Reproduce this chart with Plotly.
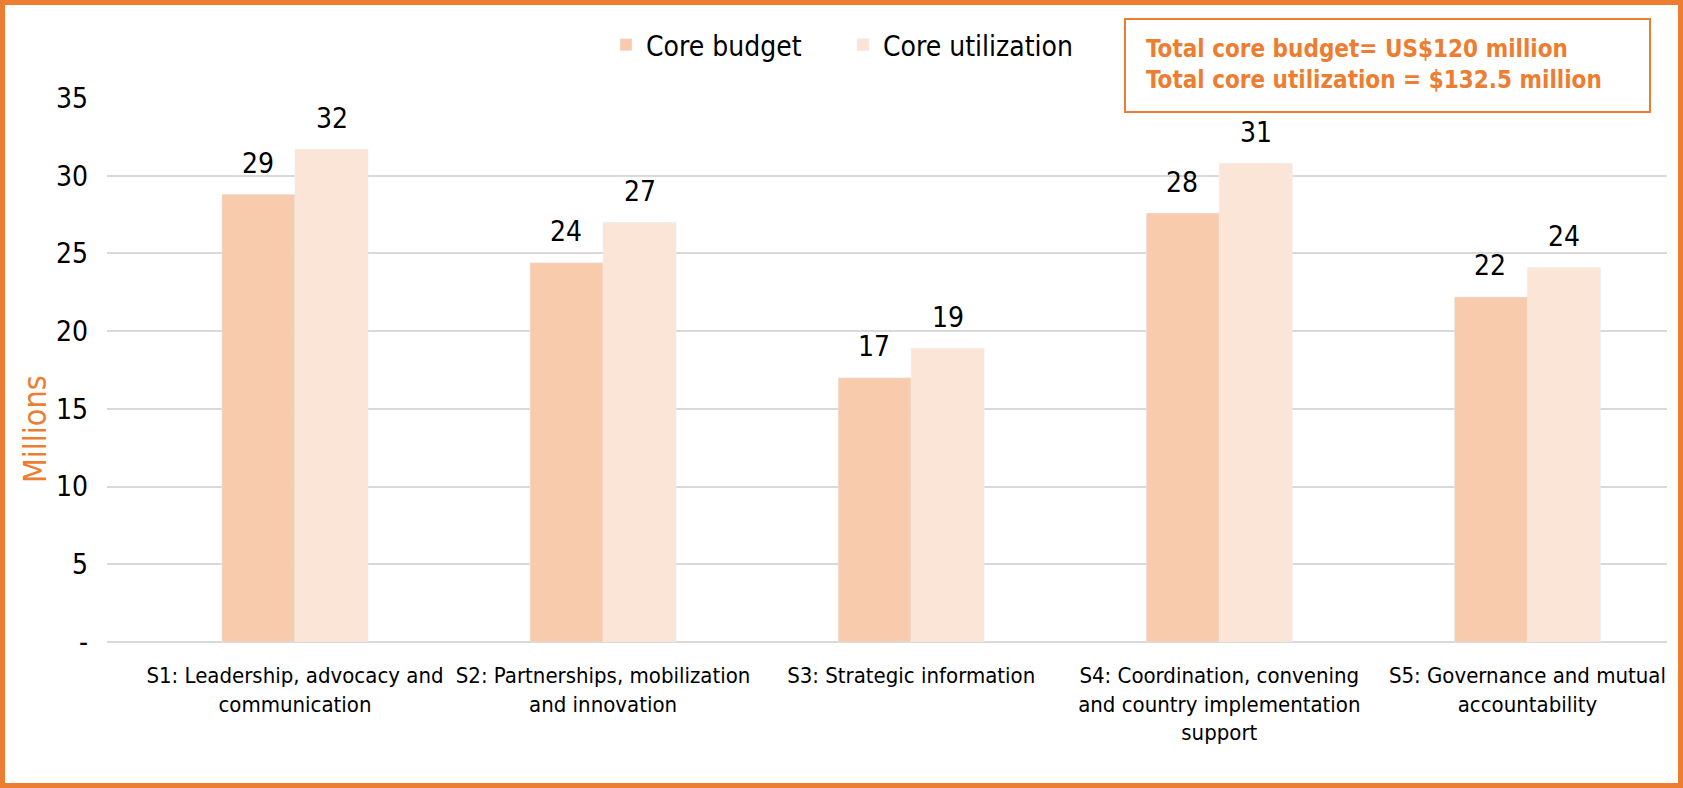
import plotly.graph_objects as go

categories = [
    "S1: Leadership, advocacy and<br>communication",
    "S2: Partnerships, mobilization<br>and innovation",
    "S3: Strategic information",
    "S4: Coordination, convening<br>and country implementation<br>support",
    "S5: Governance and mutual<br>accountability",
]
core_budget = [28.8, 24.4, 17.0, 27.6, 22.2]
core_utilization = [31.7, 27.0, 18.9, 30.8, 24.1]
y_ticks = [0, 5, 10, 15, 20, 25, 30, 35]
y_ticktext = ["-", "5", "10", "15", "20", "25", "30", "35"]

W, H = 1683, 788
ML, MR, MT, MB = 107, 16, 98, 146
PW, PH = W - ML - MR, H - MT - MB
ORANGE = "#ED7D31"
FONT = "DejaVu Sans Condensed, DejaVu Sans, sans-serif"
BAR_SHIFT = 37  # half a bar width in px, to sit the value labels over each bar


def px_x(v):
    return (v - ML) / PW


def px_y(v):
    return (H - MB - v) / PH


fig = go.Figure()
fig.add_bar(x=categories, y=core_budget, name="Core budget",
            marker_color="#F8CBAD")
fig.add_bar(x=categories, y=core_utilization, name="Core utilization",
            marker_color="#FBE5D6")

# value labels above bars (Excel places them a bit higher than plotly's outside text)
for cat, b, u in zip(categories, core_budget, core_utilization):
    for val, shift in ((b, -BAR_SHIFT), (u, BAR_SHIFT)):
        fig.add_annotation(x=cat, y=val, xshift=shift, yshift=31,
                           text=f"{val:.0f}", showarrow=False,
                           yanchor="middle", font=dict(size=28, color="black"))

fig.update_layout(
    width=W, height=H,
    margin=dict(l=ML, r=MR, t=MT, b=MB),
    paper_bgcolor="white", plot_bgcolor="white",
    font=dict(family=FONT, color="black"),
    barmode="group", bargap=0.526, bargroupgap=0,
    showlegend=True,
    legend=dict(orientation="h", x=px_x(606), y=px_y(45),
                xanchor="left", yanchor="middle",
                font=dict(size=28), itemwidth=30, tracegroupgap=0,
                entrywidth=192, entrywidthmode="pixels"),
)
fig.update_xaxes(range=[-0.61, 4.453], showgrid=False, showline=False,
                 ticks="", tickfont=dict(size=22), ticklabelstandoff=18)
fig.update_yaxes(range=[0, 35], tickvals=y_ticks, ticktext=y_ticktext,
                 showgrid=True, gridcolor="#D9D9D9", gridwidth=2,
                 zeroline=True, zerolinecolor="#D9D9D9", zerolinewidth=2,
                 showline=False, tickfont=dict(size=28), ticklabelstandoff=18)

# axis title placed like the Excel one (below the plot's middle)
fig.add_annotation(xref="paper", yref="paper", x=px_x(35), y=px_y(429),
                   text="Millions", textangle=-90, showarrow=False,
                   xanchor="center", yanchor="middle",
                   font=dict(size=32, color=ORANGE))

# outer border
fig.add_shape(type="rect", xref="paper", yref="paper",
              x0=px_x(2.5), x1=px_x(W - 2.5), y0=px_y(H - 2.5), y1=px_y(2.5),
              line=dict(color=ORANGE, width=5))
# totals box
fig.add_shape(type="rect", xref="paper", yref="paper",
              x0=px_x(1125), x1=px_x(1650), y0=px_y(112), y1=px_y(19),
              line=dict(color=ORANGE, width=2))
fig.add_annotation(xref="paper", yref="paper", x=px_x(1144), y=px_y(64),
                   xanchor="left", yanchor="middle", align="left",
                   showarrow=False,
                   text="<b>Total core budget= US$120 million</b><br>"
                        "<b>Total core utilization = $132.5 million</b>",
                   font=dict(size=24, color=ORANGE))

fig.write_html("out.html", config={"displayModeBar": False},
               post_script="document.body.style.margin='0';")
